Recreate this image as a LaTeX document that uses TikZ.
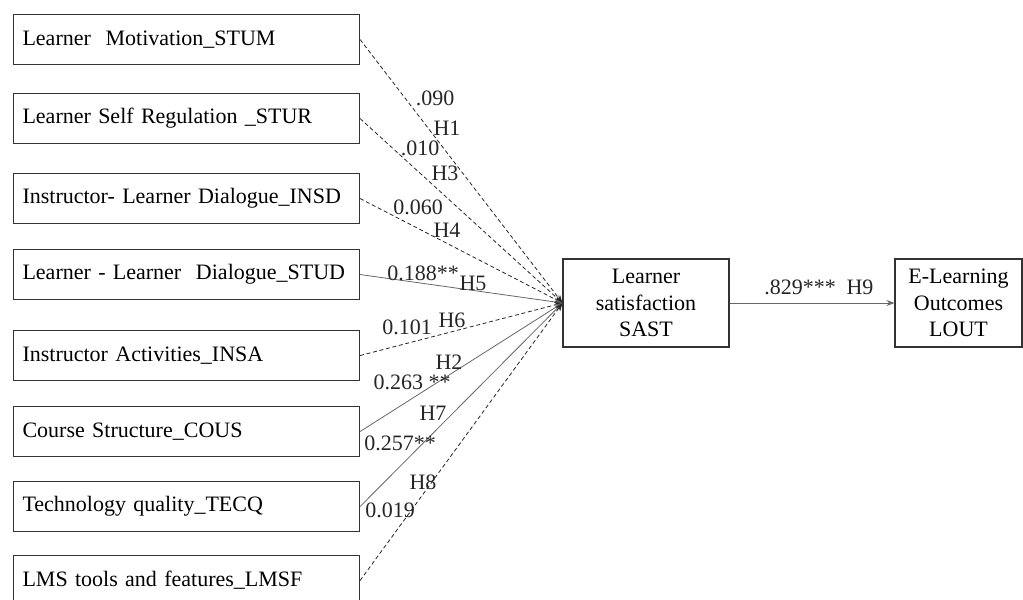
\documentclass[tikz,border=0pt]{standalone}
\usepackage{fontspec}
\setmainfont{Liberation Serif}
\usetikzlibrary{arrows.meta}
\tikzset{
  factor/.style={draw=black!80, line width=0.8pt, rectangle, anchor=north west,
    minimum width=346*0.75pt, minimum height=50*0.75pt, text width=246pt,
    inner xsep=6.75pt, align=left, font=\fontsize{16.5}{18}\selectfont},
  construct/.style={draw=black!80, line width=0.8pt, rectangle,
    minimum height=88*0.75pt, align=center, font=\fontsize{16.5}{20}\selectfont},
  lbl/.style={inner sep=0pt, font=\fontsize{16.5}{18}\selectfont, text=black!85},
  path/.style={line width=0.6pt, -{Stealth[length=6pt,width=4.5pt]}},
  ns/.style={path, draw=black!85, dash pattern=on 3pt off 2pt},
  sig/.style={path, draw=black!60}
}
\begin{document}
\begin{tikzpicture}[x=0.75pt,y=-0.75pt]
\useasboundingbox (0,0) rectangle (1023,599);

% exogenous factors
\node[factor] (stum) at (13,14)  {Learner\ \ Motivation\_STUM};
\node[factor] (stur) at (13,93)  {Learner Self Regulation \_STUR};
\node[factor] (insd) at (13,173) {Instructor- Learner Dialogue\_INSD};
\node[factor] (stud) at (13,249) {Learner - Learner\ \ Dialogue\_STUD};
\node[factor] (insa) at (13,330) {Instructor Activities\_INSA};
\node[factor] (cous) at (13,406) {Course Structure\_COUS};
\node[factor] (tecq) at (13,481) {Technology quality\_TECQ};
\node[factor] (lmsf) at (13,555) {LMS tools and features\_LMSF};

% mediator and outcome
\node[construct, minimum width=166*0.75pt] (sast) at (646,303) {Learner\\satisfaction\\SAST};
\node[construct, minimum width=127*0.75pt] (lout) at (958.5,303) {E-Learning\\Outcomes\\LOUT};

% paths into satisfaction
\draw[ns]  (stum.east) -- (sast.west);
\draw[ns]  (stur.east) -- (sast.west);
\draw[ns]  (insd.east) -- (sast.west);
\draw[sig] (stud.east) -- (sast.west);
\draw[ns]  (insa.east) -- (sast.west);
\draw[sig] (cous.east) -- (sast.west);
\draw[sig] (tecq.east) -- (sast.west);
\draw[ns]  (lmsf.east) -- (sast.west);
\draw[sig] (sast.east) -- (lout.west);

% coefficients and hypotheses
\node[lbl] (c1) at (435,98)  {.090};
\node[lbl] (h1) at (447,128) {H1};
\node[lbl] (c3) at (420,148) {.010};
\node[lbl] (h3) at (445,173) {H3};
\node[lbl] (c4) at (418,207) {0.060};
\node[lbl] (h4) at (447,230) {H4};
\node[lbl] (c5) at (423,273) {0.188**};
\node[lbl] (h5) at (473,283) {H5};
\node[lbl] (c6) at (407,327) {0.101};
\node[lbl] (h6) at (452,320) {H6};
\node[lbl] (h2) at (449,362) {H2};
\node[lbl] (c2) at (412,382) {0.263 **};
\node[lbl] (h7) at (433,413) {H7};
\node[lbl] (c7) at (400,443) {0.257**};
\node[lbl] (h8) at (423,482) {H8};
\node[lbl] (c8) at (390,510) {0.019};
\node[lbl] (c9) at (800,287) {.829***};
\node[lbl] (h9) at (860,287) {H9};
\end{tikzpicture}
\end{document}
